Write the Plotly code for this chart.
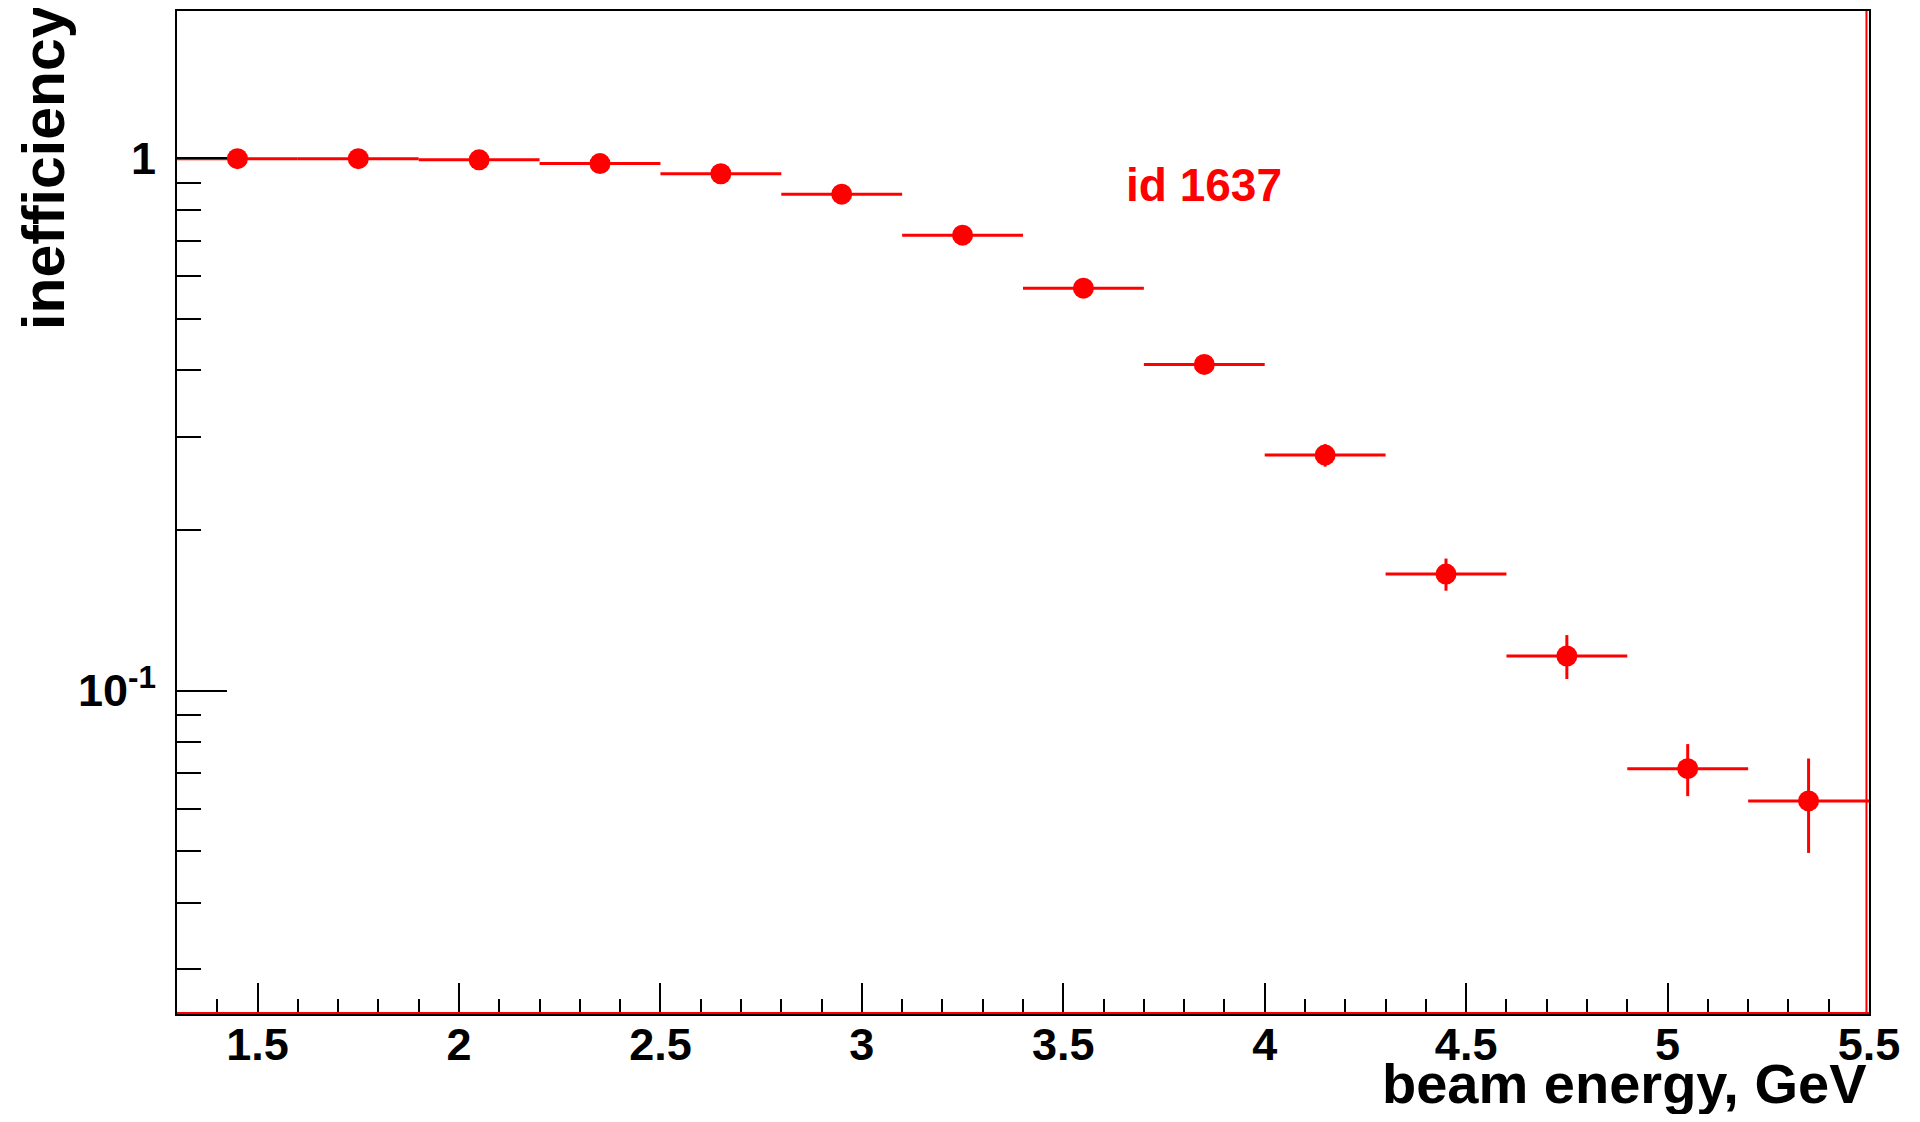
import plotly.graph_objects as go

# ---- data ----
beam_energy = [1.45, 1.75, 2.05, 2.35, 2.65, 2.95, 3.25, 3.55, 3.85, 4.15, 4.45, 4.75, 5.05, 5.35]
inefficiency = [0.998, 0.998, 0.993, 0.977, 0.935, 0.856, 0.717, 0.570, 0.410, 0.277, 0.1656, 0.1162, 0.0714, 0.0621]
inefficiency_err = [0.03, 0.03, 0.03, 0.03, 0.03, 0.028, 0.024, 0.02, 0.015, 0.0135, 0.0115, 0.011, 0.008, 0.0125]
bin_half_width = [0.15] * 14

x_tick_vals = [1.5, 2, 2.5, 3, 3.5, 4, 4.5, 5, 5.5]
x_tick_text = ["1.5", "2", "2.5", "3", "3.5", "4", "4.5", "5", "5.5"]
y_tick_vals = [0.1, 1]
y_tick_text = ["10<sup>-1</sup>", "1"]
y_minor_vals = [0.03, 0.04, 0.05, 0.06, 0.07, 0.08, 0.09, 0.2, 0.3, 0.4, 0.5, 0.6, 0.7, 0.8, 0.9]

FONT = "Liberation Sans, Arial, Helvetica, sans-serif"
RED = "#ff0000"

fig = go.Figure()
fig.add_trace(go.Scatter(
    x=beam_energy, y=inefficiency, mode="markers",
    marker=dict(symbol="circle", size=21, color=RED),
    error_x=dict(type="data", array=bin_half_width, symmetric=True,
                 color=RED, thickness=3, width=0),
    error_y=dict(type="data", array=inefficiency_err, symmetric=True,
                 color=RED, thickness=3, width=0),
    showlegend=False,
))

# page body has an 8px margin, so the figure is sized to fill the window exactly
fig.update_layout(
    width=1904, height=1106,
    margin=dict(l=169, r=43, t=1, b=100),
    paper_bgcolor="white", plot_bgcolor="white",
    font=dict(family=FONT, color="black"),
    xaxis=dict(
        range=[1.3, 5.5], showgrid=False, zeroline=False,
        showline=True, linecolor="black", linewidth=2, mirror=True,
        tickmode="array", tickvals=x_tick_vals, ticktext=x_tick_text,
        ticks="inside", ticklen=31, tickwidth=1.5, tickcolor="black",
        ticklabelstandoff=-10,
        tickfont=dict(family=FONT, size=45, weight="bold", color="black"),
        minor=dict(ticks="inside", ticklen=15, tickwidth=1.5, tickcolor="black",
                   dtick=0.1, tick0=0, showgrid=False),
    ),
    yaxis=dict(
        type="log", range=[-1.607, 0.2764], showgrid=False, zeroline=False,
        showline=True, linecolor="black", linewidth=2, mirror=True,
        tickmode="array", tickvals=y_tick_vals, ticktext=y_tick_text,
        ticks="inside", ticklen=50, tickwidth=1.5, tickcolor="black",
        ticklabelstandoff=10,
        tickfont=dict(family=FONT, size=45, weight="bold", color="black"),
        minor=dict(ticks="inside", ticklen=24, tickwidth=1.5, tickcolor="black",
                   tickmode="array", tickvals=y_minor_vals, showgrid=False),
    ),
)

# red frame lines of the histogram (bottom and right)
fig.add_shape(type="line", xref="paper", yref="paper", x0=0, x1=1, y0=0.001, y1=0.001,
              line=dict(color=RED, width=2))
fig.add_shape(type="line", xref="paper", yref="paper", x0=0.9985, x1=0.9985, y0=0, y1=1,
              line=dict(color=RED, width=2))

# axis titles
fig.add_annotation(text="beam energy, GeV", xref="paper", yref="paper",
                   x=1.0, y=-0.069, xanchor="right", yanchor="middle", showarrow=False,
                   font=dict(family=FONT, size=56, weight="bold", color="black"))
fig.add_annotation(text="inefficiency", xref="paper", yref="paper", textangle=-90,
                   x=-0.0789, y=1.0, xanchor="center", yanchor="top", showarrow=False,
                   xshift=0, yshift=8,
                   font=dict(family=FONT, size=59, weight="bold", color="black"))

# label
fig.add_annotation(text="id 1637", xref="paper", yref="paper",
                   x=0.607, y=0.8263, xanchor="center", yanchor="middle", showarrow=False,
                   font=dict(family=FONT, size=46, weight="bold", color=RED))

fig.write_html("out.html")
